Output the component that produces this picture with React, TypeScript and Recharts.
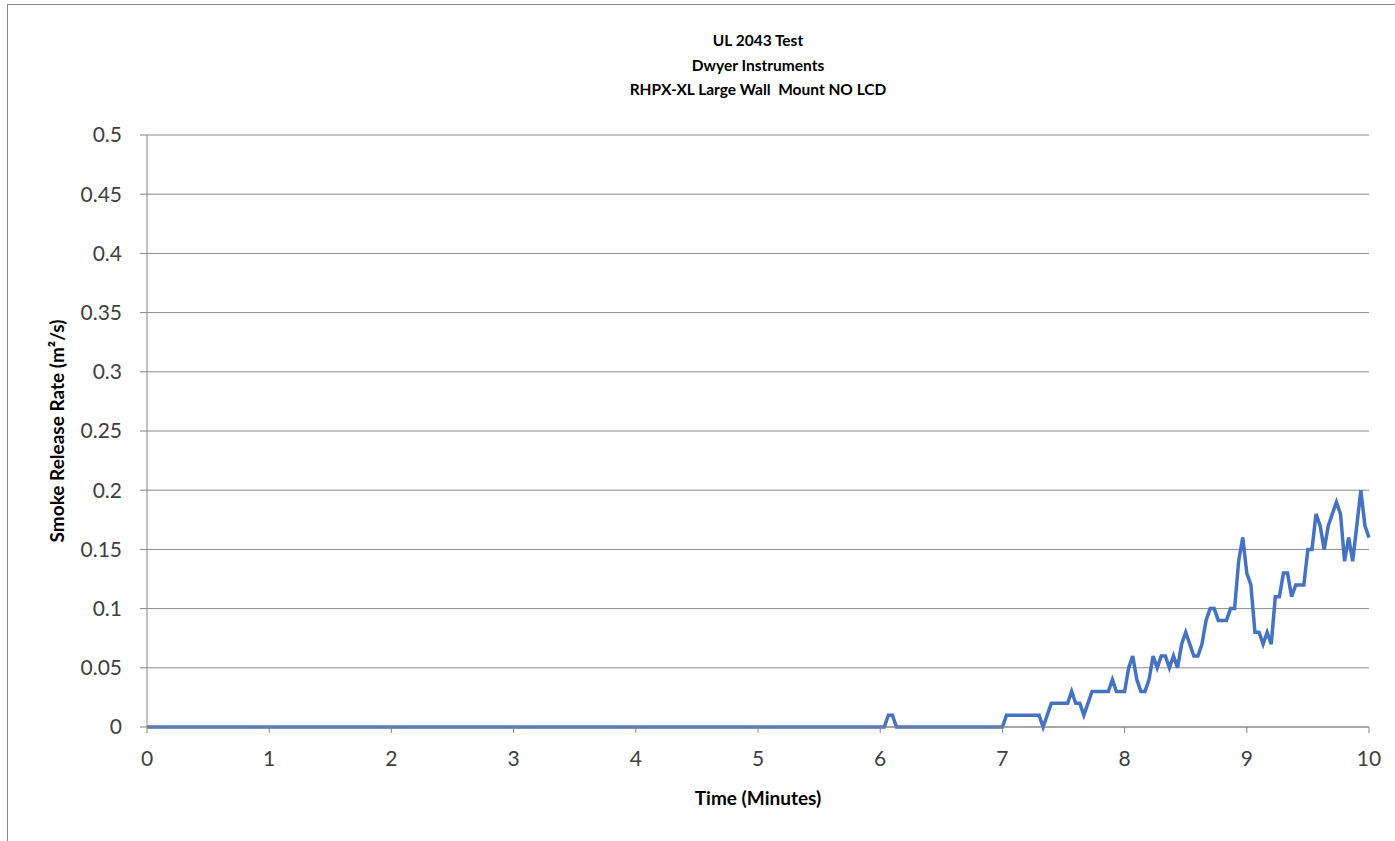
import React from 'react';
import { LineChart, Line, XAxis, YAxis, CartesianGrid } from 'recharts';

// Chart texts
const titleLines = ['UL 2043 Test', 'Dwyer Instruments', 'RHPX-XL Large Wall  Mount NO LCD'];
const xAxisTitle = 'Time (Minutes)';
const yAxisTitle = 'Smoke Release Rate (m\u00B2/s)';

// Tick labels
const minuteTicks = [0, 1, 2, 3, 4, 5, 6, 7, 8, 9, 10];
const rateTicks = [0, 0.05, 0.1, 0.15, 0.2, 0.25, 0.3, 0.35, 0.4, 0.45, 0.5];

// Sampling interval of the recorded series: 2 seconds, in minutes
const samplesPerMinute = 30;

// Smoke release rate (m²/s), one reading every 2 s, one row per minute
const smokeRate = [
  // minute 0
  0, 0, 0, 0, 0, 0, 0, 0, 0, 0, 0, 0, 0, 0, 0, 0, 0, 0, 0, 0, 0, 0, 0, 0, 0, 0, 0, 0, 0, 0,
  // minute 1
  0, 0, 0, 0, 0, 0, 0, 0, 0, 0, 0, 0, 0, 0, 0, 0, 0, 0, 0, 0, 0, 0, 0, 0, 0, 0, 0, 0, 0, 0,
  // minute 2
  0, 0, 0, 0, 0, 0, 0, 0, 0, 0, 0, 0, 0, 0, 0, 0, 0, 0, 0, 0, 0, 0, 0, 0, 0, 0, 0, 0, 0, 0,
  // minute 3
  0, 0, 0, 0, 0, 0, 0, 0, 0, 0, 0, 0, 0, 0, 0, 0, 0, 0, 0, 0, 0, 0, 0, 0, 0, 0, 0, 0, 0, 0,
  // minute 4
  0, 0, 0, 0, 0, 0, 0, 0, 0, 0, 0, 0, 0, 0, 0, 0, 0, 0, 0, 0, 0, 0, 0, 0, 0, 0, 0, 0, 0, 0,
  // minute 5
  0, 0, 0, 0, 0, 0, 0, 0, 0, 0, 0, 0, 0, 0, 0, 0, 0, 0, 0, 0, 0, 0, 0, 0, 0, 0, 0, 0, 0, 0,
  // minute 6
  0, 0, 0.01, 0.01, 0, 0, 0, 0, 0, 0, 0, 0, 0, 0, 0, 0, 0, 0, 0, 0, 0, 0, 0, 0, 0, 0, 0, 0, 0, 0,
  // minute 7
  0, 0.01, 0.01, 0.01, 0.01, 0.01, 0.01, 0.01, 0.01, 0.01, 0, 0.01, 0.02, 0.02, 0.02, 0.02, 0.02, 0.03, 0.02, 0.02,
  0.01, 0.02, 0.03, 0.03, 0.03, 0.03, 0.03, 0.04, 0.03, 0.03,
  // minute 8
  0.03, 0.05, 0.06, 0.04, 0.03, 0.03, 0.04, 0.06, 0.05, 0.06, 0.06, 0.05, 0.06, 0.05, 0.07, 0.08, 0.07, 0.06, 0.06, 0.07,
  0.09, 0.1, 0.1, 0.09, 0.09, 0.09, 0.1, 0.1, 0.14, 0.16,
  // minute 9
  0.13, 0.12, 0.08, 0.08, 0.07, 0.08, 0.07, 0.11, 0.11, 0.13, 0.13, 0.11, 0.12, 0.12, 0.12, 0.15, 0.15, 0.18, 0.17, 0.15,
  0.17, 0.18, 0.19, 0.18, 0.14, 0.16, 0.14, 0.17, 0.2, 0.17,
  // minute 10
  0.16,
];

const chartData = smokeRate.map((v, i) => ({ t: i / samplesPerMinute, rate: v }));

const axisGray = '#868686';
const gridGray = '#8c8c8c';
const textColor = '#404040';
const fontFamily = 'Lato, "Open Sans", sans-serif';

const W = 1395;
const H = 841;
const yAxisWidth = 80;
const xAxisHeight = 60;
const plotLeft = 147;
const plotRight = 1369;
const plotTop = 135;
const plotBottom = 727;

export default function App() {
  return (
    <div
      style={{
        position: 'absolute',
        left: 0,
        top: 0,
        width: W,
        height: H,
        background: '#ffffff',
        overflow: 'hidden',
        fontFamily,
      }}
    >
      <div
        style={{
          position: 'absolute',
          left: 7,
          top: 4,
          width: W,
          height: H,
          borderLeft: '1px solid #8a8a8a',
          borderTop: '1px solid #8a8a8a',
        }}
      />
      <LineChart
        width={W}
        height={H}
        data={chartData}
        margin={{
          top: plotTop,
          right: W - plotRight,
          bottom: H - plotBottom - xAxisHeight,
          left: plotLeft - yAxisWidth,
        }}
        style={{ position: 'absolute', left: 0, top: 0 }}
      >
        <CartesianGrid vertical={false} stroke={gridGray} strokeWidth={1} />
        <XAxis
          dataKey="t"
          type="number"
          domain={[0, 10]}
          ticks={minuteTicks}
          interval={0}
          height={xAxisHeight}
          tickSize={6}
          tickMargin={18}
          axisLine={{ stroke: axisGray }}
          tickLine={{ stroke: axisGray }}
          tick={{ fontSize: 21, fill: textColor, fontFamily }}
        />
        <YAxis
          type="number"
          domain={[0, 0.5]}
          ticks={rateTicks}
          interval={0}
          width={yAxisWidth}
          tickSize={7}
          tickMargin={18}
          axisLine={{ stroke: axisGray }}
          tickLine={{ stroke: axisGray }}
          tick={{ fontSize: 21, fill: textColor, fontFamily }}
        />
        <Line
          type="linear"
          dataKey="rate"
          stroke="#4472C4"
          strokeWidth={3.5}
          dot={false}
          activeDot={false}
          isAnimationActive={false}
        />
      </LineChart>
      <div
        style={{
          position: 'absolute',
          left: plotLeft,
          width: plotRight - plotLeft,
          top: 28,
          textAlign: 'center',
          fontWeight: 700,
          fontSize: 15.5,
          lineHeight: '24.5px',
          color: '#000000',
        }}
      >
        {titleLines.map((l) => (
          <div key={l} style={{ whiteSpace: 'pre' }}>{l}</div>
        ))}
      </div>
      <div
        style={{
          position: 'absolute',
          left: plotLeft,
          width: plotRight - plotLeft,
          top: 787,
          textAlign: 'center',
          fontWeight: 700,
          fontSize: 19,
          lineHeight: '22px',
          color: '#000000',
        }}
      >
        {xAxisTitle}
      </div>
      <div
        style={{
          position: 'absolute',
          left: 57 - 200,
          top: (plotTop + plotBottom) / 2 - 11,
          width: 400,
          height: 22,
          lineHeight: '22px',
          textAlign: 'center',
          fontWeight: 700,
          fontSize: 19,
          color: '#000000',
          transform: 'rotate(-90deg)',
          transformOrigin: '200px 11px',
        }}
      >
        {yAxisTitle}
      </div>
    </div>
  );
}
